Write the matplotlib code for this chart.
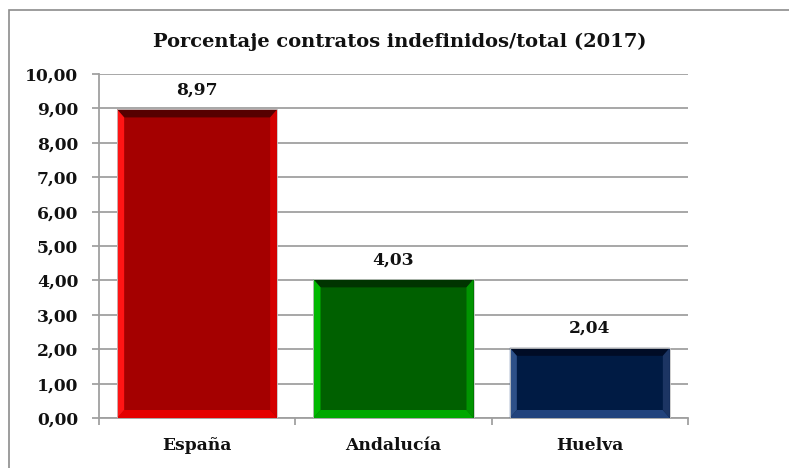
import matplotlib
matplotlib.use("Agg")
import matplotlib.pyplot as plt
from matplotlib.patches import Polygon, Rectangle

# chart data
categories = ["España", "Andalucía", "Huelva"]
values = [8.97, 4.03, 2.04]
value_labels = ["8,97", "4,03", "2,04"]
y_ticks = [0, 1, 2, 3, 4, 5, 6, 7, 8, 9, 10]
y_tick_labels = ["0,00", "1,00", "2,00", "3,00", "4,00", "5,00",
                 "6,00", "7,00", "8,00", "9,00", "10,00"]
title = "Porcentaje contratos indefinidos/total (2017)"

# face, top, bottom, left, right colours for the bevelled bars
bar_colors = [
    ["#a40000", "#560000", "#e40000", "#ff1414", "#d20000"],
    ["#006000", "#003400", "#00a800", "#00b800", "#009400"],
    ["#001b44", "#000c26", "#22437c", "#2d5088", "#1c3563"],
]

W, H = 789, 468
fig = plt.figure(figsize=(W / 100, H / 100), dpi=100)
fig.patch.set_facecolor("white")

# outer chart frame
fig.patches.append(Rectangle((9 / W, -0.1), 1.2, 1 - 10 / H + 0.1,
                             transform=fig.transFigure, fill=False,
                             edgecolor="#8c8c8c", linewidth=1.2))

ax = fig.add_axes([99 / W, 50 / H, 589 / W, 344 / H])
ax.set_xlim(-0.5, 2.5)
ax.set_ylim(0, 10)

bars = ax.bar(range(len(categories)), values, width=0.815, color=[c[0] for c in bar_colors],
              zorder=3, linewidth=0)

# bevel size in data units (about 7 px wide, 8 px high)
bx = 7 * 3 / 589
by = 8 * 10 / 344
for bar, cols in zip(bars, bar_colors):
    x0, y0 = bar.get_x(), bar.get_y()
    x1, y1 = x0 + bar.get_width(), y0 + bar.get_height()
    ix0, ix1, iy0, iy1 = x0 + bx, x1 - bx, y0 + by, y1 - by
    sides = [
        ([(x0, y1), (x1, y1), (ix1, iy1), (ix0, iy1)], cols[1]),
        ([(x0, y0), (x1, y0), (ix1, iy0), (ix0, iy0)], cols[2]),
        ([(x0, y0), (ix0, iy0), (ix0, iy1), (x0, y1)], cols[3]),
        ([(x1, y0), (ix1, iy0), (ix1, iy1), (x1, y1)], cols[4]),
    ]
    for pts, c in sides:
        ax.add_patch(Polygon(pts, closed=True, facecolor=c, edgecolor="none", zorder=4))
    ax.add_patch(Rectangle((x0, y0), x1 - x0, y1 - y0, fill=False,
                           edgecolor="#c8c8c8", linewidth=0.6, zorder=5))

for bar, lab in zip(bars, value_labels):
    ax.annotate(lab, (bar.get_x() + bar.get_width() / 2, bar.get_height()),
                xytext=(0, 8), textcoords="offset points", ha="center", va="bottom",
                fontsize=12.3, fontweight="bold", family="DejaVu Serif", color="#111111")

ax.set_yticks(y_ticks)
ax.set_yticklabels(y_tick_labels)
ax.set_xticks(range(len(categories)))
ax.set_xticklabels(categories)
ax.set_xticks([-0.5, 0.5, 1.5, 2.5], minor=True)

for lab in ax.get_xticklabels() + ax.get_yticklabels():
    lab.set_family("DejaVu Serif")
    lab.set_fontweight("bold")
    lab.set_fontsize(12.3)
    lab.set_color("#111111")

ax.tick_params(axis="y", length=5, width=1.2, color="#999999", pad=10)
ax.tick_params(axis="x", which="major", length=0, pad=14)
ax.tick_params(axis="x", which="minor", length=5, width=1.2, color="#999999")

ax.grid(axis="y", color="#a0a0a0", linewidth=1.3, zorder=0)
ax.set_axisbelow(True)
for s in ["top", "right"]:
    ax.spines[s].set_visible(False)
for s in ["left", "bottom"]:
    ax.spines[s].set_color("#a0a0a0")
    ax.spines[s].set_linewidth(1.3)

fig.text(400 / W, 1 - 42 / H, title, ha="center", va="center",
         fontsize=14, fontweight="bold", family="DejaVu Serif", color="#111111")

fig.savefig("out.png", dpi=100)
